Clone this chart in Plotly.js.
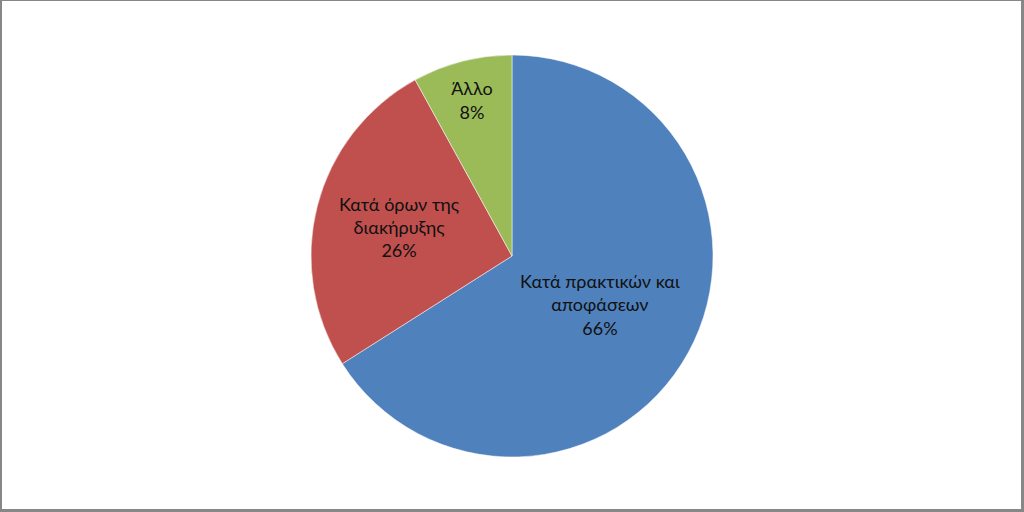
<!DOCTYPE html>
<html>
<head>
<meta charset="utf-8">
<script src="https://cdn.plot.ly/plotly-3.0.1.min.js"></script>
<style>
  body { margin: 0; background: #fff; }
  #wrap { position: relative; width: 1024px; height: 512px; }
  #chart { position: absolute; left: 0; top: 0; width: 1024px; height: 512px; }
  #frame {
    position: absolute; left: 0; top: 0; width: 1024px; height: 512px;
    box-sizing: border-box; pointer-events: none;
    border-style: solid; border-color: #878787;
    border-width: 1px 3px 3px 2px;
  }
</style>
</head>
<body>
<div id="wrap">
  <div id="chart"></div>
  <div id="frame"></div>
</div>
<script>
const labels = ['Κατά πρακτικών και<br>αποφάσεων', 'Κατά όρων της<br>διακήρυξης', 'Άλλο'];
const values = [66, 26, 8];
const colors = ['#4F81BD', '#C0504D', '#9BBB59'];

const trace = {
  type: 'pie',
  labels: labels,
  values: values,
  sort: false,
  direction: 'clockwise',
  rotation: 0,
  marker: { colors: colors, line: { color: '#ffffff', width: 0.5 } },
  texttemplate: '%{label}<br>%{percent:.0%}',
  textposition: 'inside',
  insidetextorientation: 'horizontal',
  textfont: { family: 'Lato, "Noto Sans", sans-serif', size: 18, color: '#111111' },
  hoverinfo: 'none',
  domain: { x: [0, 1], y: [1 - 457 / 512, 1 - 55 / 512] },
  showlegend: false
};

const layout = {
  width: 1024,
  height: 512,
  margin: { l: 0, r: 0, t: 0, b: 0 },
  paper_bgcolor: '#ffffff',
  showlegend: false
};

Plotly.newPlot('chart', [trace], layout, { staticPlot: true });
</script>
</body>
</html>
